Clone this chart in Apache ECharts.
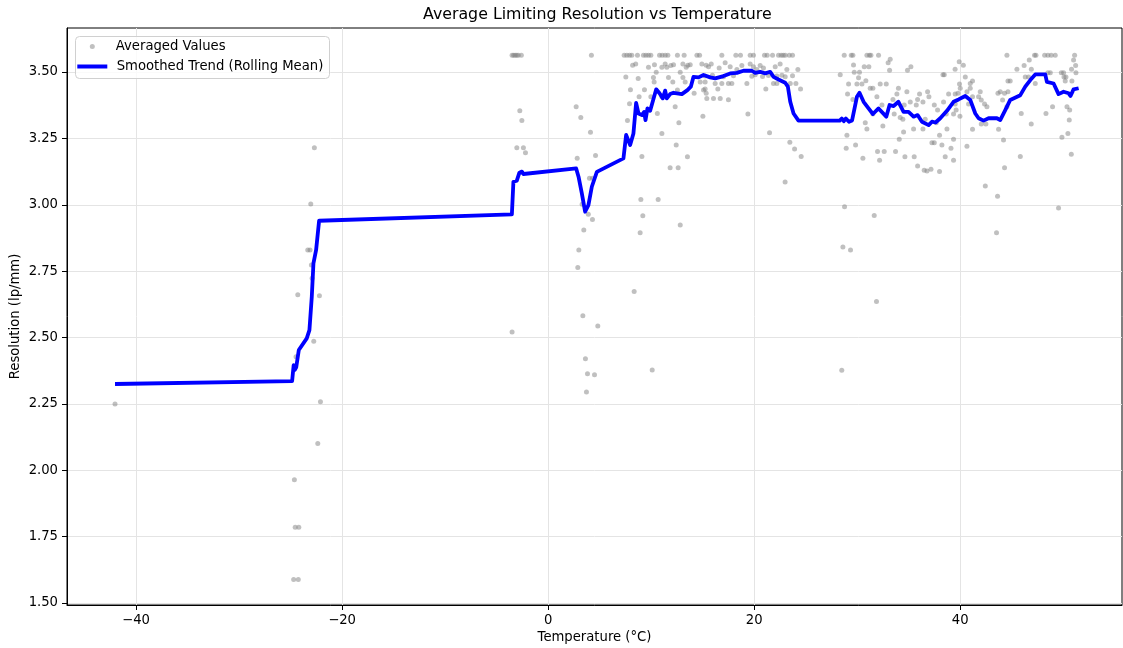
<!DOCTYPE html>
<html>
<head>
<meta charset="utf-8">
<script src="https://cdn.jsdelivr.net/npm/echarts@6/dist/echarts.min.js"></script>
<style>html,body{margin:0;padding:0;background:#fff}#c{width:1123px;height:648px}</style>
</head>
<body>
<div id="c"></div>
<script>
// ---- Data ----
const xTicks = [-40, -20, 0, 20, 40];
const yTicks = [1.50, 1.75, 2.00, 2.25, 2.50, 2.75, 3.00, 3.25, 3.50];

const scatterTemp = [
-42.04,-22.69,-23.04,-23.33,-23.11,-22.98,-22.91,-24.3,-22.2,-22.75,-24.47,-22.1,-22.36,-24.63,-24.55,-24.2,-24.7,-24.25,
-3.5,-3.35,-3.2,-3.05,-2.9,-2.6,-2.75,-2.55,-3.04,-2.4,-2.2,-3.5,4.2,
2.72,3.17,4.11,2.82,4.6,4.01,4.3,3.3,3.9,4.3,3.46,2.98,2.88,3.37,4.82,3.62,3.82,4.5,3.72,
8.35,9.0,9.19,8.93,9.1,7.54,8.74,7.99,9.35,7.9,7.7,8.83,8.2,8.5,10.1,28.5,
7.38,7.64,7.9,8.12,8.67,9.25,9.49,9.74,9.97,10.81,11.07,11.36,11.62,12.55,13.2,14.44,14.7,
10.32,11.36,11.91,12.17,13.08,13.56,13.79,14.92,15.34,
9.74,11.04,11.52,13.4,10.49,12.82,10.22,11.68,13.08,
10.29,12.1,13.3,14.76,15.24,12.55,15.08,14.17,15.34,11.04,9.97,12.33,10.6,15.02,12.69,11.04,12.43,13.52,11.84,12.62,10.68,12.82,
19.39,21.49,23.46,23.92,24.56,23.0,
16.86,18.22,18.67,19.61,19.93,21.0,21.26,21.78,22.36,22.62,22.82,23.01,23.4,23.72,
15.57,15.83,16.6,17.18,17.67,18.32,18.8,19.61,19.93,20.26,20.58,20.9,22.04,22.52,
23.17,24.24,
15.24,15.95,17.02,17.99,19.77,20.1,20.81,21.39,22.2,22.69,23.01,23.72,
16.21,16.86,17.5,17.83,19.29,21.87,22.2,23.5,24.05,
15.24,16.47,21.13,24.5,15.4,16.05,16.7,17.5,
28.74,29.42,29.58,30.94,31.19,31.33,32.07,33.2,33.0,29.64,30.68,31.13,35.21,33.14,34.88,29.71,30.22,28.35,38.32,38.45,30.13,30.84,
29.16,29.97,30.46,32.23,32.82,39.93,31.26,31.52,34.0,34.82,36.83,29.06,33.85,36.05,38.87,39.51,31.91,36.96,29.58,33.47,35.86,
35.15,36.38,38.38,32.4,34.56,35.73,37.48,37.8,39.6,31.52,33.59,38.64,39.35,34.17,34.43,36.6,30.78,37.67,32.49,
30.94,35.47,36.38,38.71,34.5,29.0,37.99,34.08,39.35,37.25,37.48,29.84,38.22,28.93,39.1,31.97,32.62,33.72,34.63,35.53,38.54,30.55,
32.17,39.35,35.86,36.5,36.77,37.16,37.99,
28.77,31.65,28.61,29.35,31.87,42.43,43.62,49.54,43.52,
44.53,47.21,47.35,48.19,48.51,48.83,49.22,51.1,46.7,51.0,39.9,40.3,46.2,51.2,39.5,45.5,46.9,50.8,
48.51,48.74,49.81,50.03,51.23,40.49,46.31,46.63,50.07,50.26,41.19,44.63,44.85,50.19,50.84,40.97,47.28,40.0,40.97,
40.65,41.94,43.88,44.63,39.78,43.66,44.3,41.19,41.78,42.04,44.11,40.81,42.36,39.51,42.59,44.53,48.96,50.36,50.62,45.92,48.32,39.97,50.58,
42.04,42.49,46.89,41.19,43.72,50.45,49.87,44.2,40.65,50.78,45.83,44.3
];
const scatterRes = [
2.25,3.215,3.003,2.830,2.830,2.773,2.723,2.661,2.657,2.486,2.428,2.258,2.101,1.964,1.785,1.785,1.589,1.589,
3.563,3.563,3.563,3.563,3.563,3.563,3.354,3.318,3.215,3.215,3.196,2.521,3.563,
3.369,3.329,3.273,3.175,3.186,3.10,3.10,3.002,2.964,2.945,2.905,2.830,2.764,2.582,2.543,2.420,2.364,2.360,2.295,
2.673,3.02,2.959,2.895,3.182,3.481,3.476,3.433,3.433,3.381,3.318,3.407,3.526,3.53,2.378,2.377,
3.563,3.563,3.563,3.563,3.563,3.563,3.563,3.563,3.563,3.563,3.563,3.563,3.563,3.563,3.563,3.563,3.563,
3.528,3.53,3.525,3.528,3.53,3.526,3.528,3.53,3.526,
3.518,3.518,3.518,3.518,3.499,3.499,3.48,3.48,3.48,
3.463,3.463,3.463,3.463,3.463,3.432,3.432,3.42,3.42,3.407,3.407,3.369,3.344,3.334,3.309,3.269,3.225,3.181,3.14,3.14,3.02,2.924,
3.342,3.271,3.236,3.21,3.182,3.086,
3.563,3.563,3.563,3.563,3.563,3.563,3.563,3.563,3.563,3.563,3.563,3.563,3.563,3.563,
3.52,3.53,3.515,3.535,3.52,3.51,3.525,3.53,3.52,3.51,3.525,3.515,3.52,3.53,
3.51,3.51,
3.485,3.488,3.482,3.486,3.484,3.49,3.483,3.487,3.485,3.488,3.482,3.486,
3.457,3.457,3.457,3.457,3.457,3.457,3.457,3.457,3.457,
3.436,3.436,3.436,3.436,3.40,3.40,3.40,3.396,
3.563,3.563,3.563,3.563,3.563,3.563,3.563,3.548,3.535,3.527,3.52,3.52,3.52,3.507,3.507,3.499,3.499,3.49,3.49,3.49,3.479,3.467,
3.455,3.455,3.455,3.455,3.455,3.455,3.439,3.439,3.439,3.426,3.426,3.417,3.417,3.417,3.417,3.417,3.407,3.407,3.397,3.397,3.397,
3.387,3.387,3.387,3.376,3.376,3.376,3.376,3.357,3.357,3.342,3.342,3.342,3.342,3.329,3.322,3.322,3.309,3.309,3.297,
3.286,3.286,3.286,3.286,3.274,3.262,3.262,3.247,3.247,3.234,3.234,3.225,3.225,3.213,3.213,3.201,3.201,3.201,3.181,3.181,3.181,3.175,
3.168,3.168,3.146,3.13,3.127,3.134,3.125,
2.993,2.96,2.841,2.83,2.636,3.071,3.032,2.988,2.895,
3.563,3.563,3.563,3.563,3.563,3.563,3.563,3.563,3.545,3.545,3.539,3.526,3.525,3.525,3.511,3.511,3.511,3.511,
3.497,3.497,3.497,3.497,3.497,3.481,3.481,3.481,3.481,3.481,3.466,3.466,3.466,3.466,3.466,3.457,3.457,3.439,3.439,
3.426,3.426,3.426,3.426,3.42,3.42,3.42,3.407,3.407,3.395,3.395,3.38,3.38,3.38,3.369,3.369,3.369,3.369,3.357,3.344,3.344,3.334,3.319,
3.304,3.304,3.304,3.285,3.285,3.269,3.254,3.244,3.221,3.19,3.182,3.14
];

const trendTemp = [-42.04,-24.85,-24.7,-24.6,-24.45,-24.2,-23.43,-23.17,-22.94,-22.78,-22.52,-22.23,-3.52,-3.37,-3.04,-2.79,-2.55,-2.4,2.72,2.95,3.27,3.59,3.91,4.24,4.73,7.31,7.57,7.96,8.28,8.54,8.77,9.1,9.32,9.45,9.64,9.9,10.49,10.81,11.13,11.36,11.52,11.84,12.17,12.98,13.52,13.85,14.11,14.6,15.08,15.73,16.21,17.02,17.67,18.32,18.96,19.77,20.1,20.58,21.07,21.55,21.88,22.36,23.01,23.27,23.5,23.82,24.3,28.3,28.5,28.7,28.9,29.2,29.5,29.97,30.22,30.62,31.1,31.52,32.07,32.82,33.14,33.53,34.0,34.5,34.98,35.47,35.86,36.28,36.93,37.25,37.6,38.06,38.71,39.35,39.84,40.49,40.97,41.46,41.78,42.26,42.75,43.56,43.88,44.37,44.85,45.83,46.31,46.8,47.28,48.25,48.41,49.06,49.54,50.03,50.52,50.7,51.0,51.49];
const trendRes = [2.325,2.336,2.396,2.378,2.388,2.453,2.497,2.528,2.654,2.779,2.83,2.94,2.964,3.087,3.091,3.121,3.125,3.116,3.137,3.106,3.043,2.974,2.999,3.068,3.124,3.175,3.263,3.225,3.269,3.384,3.344,3.338,3.35,3.319,3.363,3.354,3.435,3.42,3.401,3.43,3.401,3.417,3.422,3.417,3.432,3.445,3.482,3.48,3.489,3.48,3.476,3.485,3.495,3.497,3.505,3.505,3.497,3.501,3.495,3.501,3.482,3.472,3.46,3.445,3.388,3.344,3.317,3.317,3.325,3.315,3.325,3.313,3.318,3.407,3.422,3.388,3.363,3.342,3.363,3.332,3.376,3.372,3.388,3.35,3.35,3.332,3.338,3.313,3.3,3.313,3.31,3.326,3.354,3.388,3.397,3.41,3.395,3.344,3.326,3.317,3.326,3.326,3.319,3.357,3.395,3.413,3.445,3.47,3.491,3.491,3.463,3.457,3.417,3.426,3.42,3.41,3.435,3.439];

// ---- Chart ----
const chart = echarts.init(document.getElementById('c'), null, {renderer: 'canvas'});
const FONT = 'DejaVu Sans';
const FS = 13.2;
const scatterData = scatterTemp.map((t, i) => [t, scatterRes[i]]);
const trendData = trendTemp.map((t, i) => [t, trendRes[i]]);
const minus = v => (v < 0 ? '\u2212' + Math.abs(v) : String(v));

chart.setOption({
  backgroundColor: '#ffffff',
  animation: false,
  textStyle: {fontFamily: FONT},
  title: {
    text: 'Average Limiting Resolution vs Temperature',
    left: 423, top: 7, padding: 0,
    textStyle: {fontFamily: FONT, fontSize: 15.8, fontWeight: 'normal', color: '#000'}
  },
  grid: {
    left: 67, right: 1, top: 28, bottom: 43, containLabel: false, outerBoundsMode: 'none',
    show: true, borderColor: '#000', borderWidth: 1, backgroundColor: 'transparent'
  },
  legend: [
    {
      data: ['Averaged Values'], orient: 'vertical', left: 89.8, top: 40, padding: 0,
      itemWidth: 5, itemHeight: 5, icon: 'circle', z: 20,
      textStyle: {fontFamily: FONT, fontSize: FS, color: '#000', padding: [0, 0, 0, 16]}
    },
    {
      data: ['Smoothed Trend (Rolling Mean)'], orient: 'vertical', left: 77.3, top: 60, padding: 0,
      itemWidth: 30, itemHeight: 4, icon: 'rect', z: 20,
      textStyle: {fontFamily: FONT, fontSize: FS, color: '#000', padding: [0, 0, 0, 4.4]}
    }
  ],
  graphic: [{
    type: 'rect', z: 15, left: 75, top: 36,
    shape: {width: 254, height: 42, r: 4},
    style: {fill: 'rgba(255,255,255,0.8)', stroke: '#d0d0d0', lineWidth: 1}
  }],
  xAxis: {
    type: 'value', min: -46.7, max: 55.7,
    name: 'Temperature (\u00b0C)', nameLocation: 'middle', nameGap: 26, nameMoveOverlap: false,
    nameTextStyle: {fontFamily: FONT, fontSize: FS, color: '#000'},
    axisLine: {show: true, onZero: false, lineStyle: {color: '#000', width: 1}},
    axisTick: {show: true, inside: false, length: 5, customValues: xTicks, lineStyle: {color: '#000', width: 1}},
    axisLabel: {customValues: xTicks, formatter: minus, margin: 9, fontFamily: FONT, fontSize: FS, color: '#000'},
    splitLine: {show: true, lineStyle: {color: '#e4e4e4', width: 1}}
  },
  yAxis: {
    type: 'value', min: 1.4925, max: 3.666,
    name: 'Resolution (lp/mm)', nameLocation: 'middle', nameGap: 45, nameMoveOverlap: false,
    nameTextStyle: {fontFamily: FONT, fontSize: FS, color: '#000'},
    axisLine: {show: true, onZero: false, lineStyle: {color: '#000', width: 1}},
    axisTick: {show: true, inside: false, length: 5, customValues: yTicks, lineStyle: {color: '#000', width: 1}},
    axisLabel: {customValues: yTicks, formatter: v => Number(v).toFixed(2), margin: 9, fontFamily: FONT, fontSize: FS, color: '#000'},
    splitLine: {show: true, lineStyle: {color: '#e4e4e4', width: 1}}
  },
  series: [
    {
      name: 'Averaged Values', type: 'scatter', data: scatterData,
      symbol: 'circle', symbolSize: 5,
      itemStyle: {color: 'rgba(128,128,128,0.62)'}, z: 2
    },
    {
      name: 'Smoothed Trend (Rolling Mean)', type: 'line', data: trendData,
      showSymbol: false, symbol: 'none', color: '#0000ff',
      lineStyle: {color: '#0000ff', width: 3.8, join: 'round'}, z: 3
    }
  ]
});
</script>
</body>
</html>
